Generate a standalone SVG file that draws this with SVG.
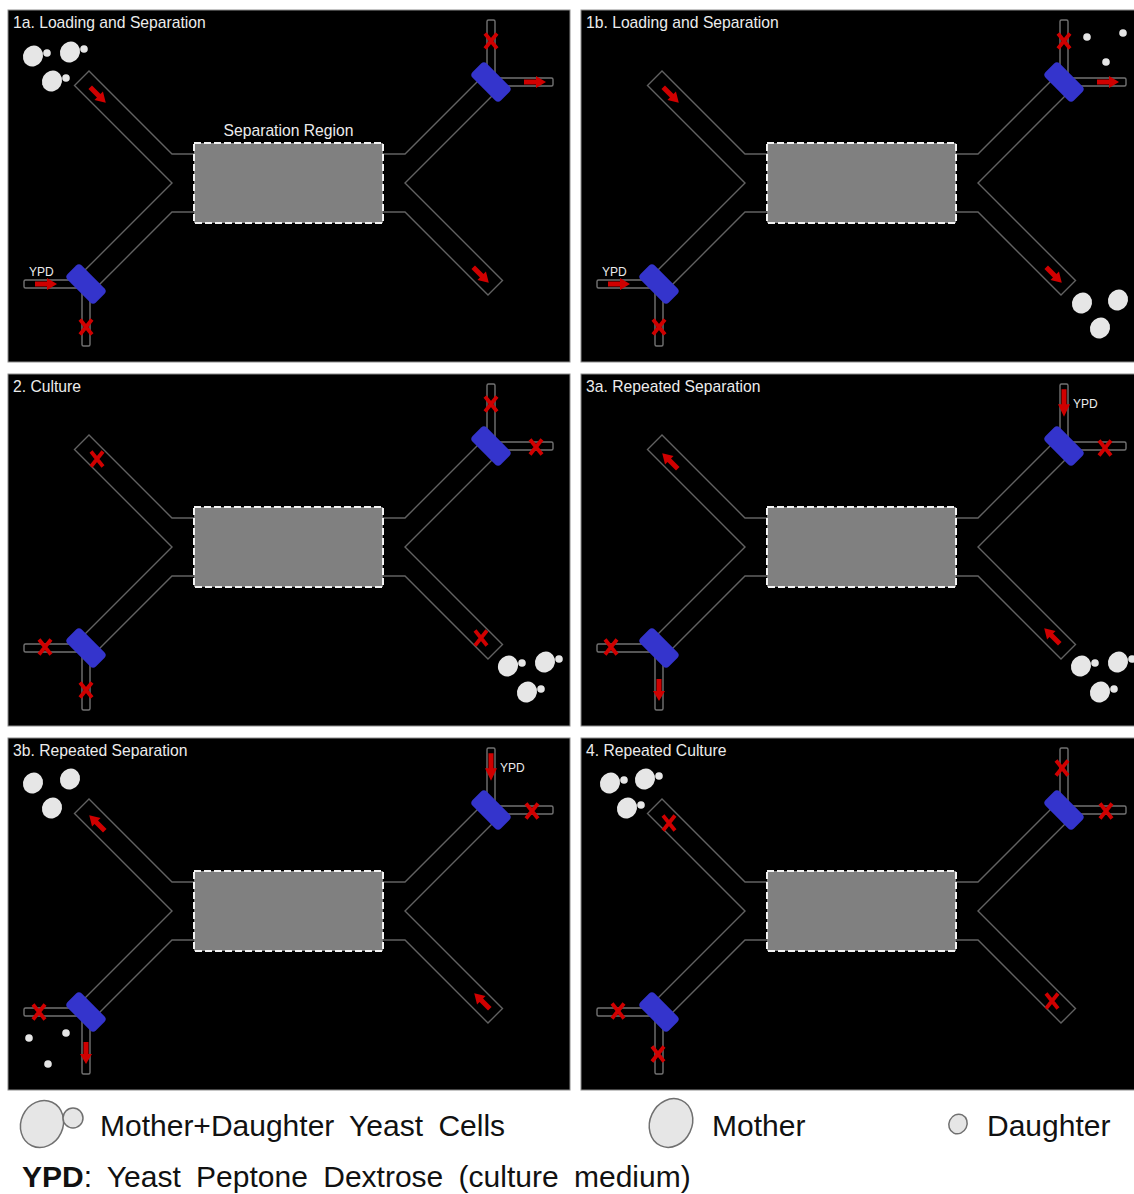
<svg xmlns="http://www.w3.org/2000/svg" width="1134" height="1194" viewBox="0 0 1134 1194">
<style>
  .bg{fill:#000;stroke:#8c8c8c;stroke-width:1}
  .ch{fill:none;stroke:#626262;stroke-width:1.4}
  .tc{fill:#000;stroke:#727272;stroke-width:1.4}
  .valve{fill:#3434cc}
  .sep{fill:#808080;stroke:#f2f2f2;stroke-width:2;stroke-dasharray:7 3}
  .title{font-family:"Liberation Sans",Arial,sans-serif;font-size:15.7px;fill:#ececec}
  .ypd{font-family:"Liberation Sans",Arial,sans-serif;font-size:12px;fill:#ececec}
  .cell{fill:#e6e6e6}
  .lg{font-family:"Liberation Sans",Arial,sans-serif;font-size:30px;fill:#111;word-spacing:7px}
  .lcell{fill:#e6e6e6;stroke:#707070;stroke-width:1.5}
</style>
<defs>
  <!-- microfluidic chip: inlet/outlet channels, valves and the separation chamber -->
  <g id="chip">
    <rect class="bg" x="8" y="10" width="562" height="352"/>
    <g class="channels">
      <path class="ch" d="M194,154 H172 L89,71 L74.5,85.5 L172,183 L82,273"/>
      <path class="ch" d="M194,212 H172 L96,288"/>
      <path class="ch" d="M383,212 H405 L488,295 L502.5,280.5 L405,183 L495,93"/>
      <path class="ch" d="M383,154 H405 L481,78"/>
    </g>
    <rect class="tc" x="24" y="280" width="60" height="8" rx="1.5"/>
    <rect class="tc" x="82" y="286" width="8" height="60" rx="1.5"/>
    <rect class="tc" x="493" y="78" width="60" height="8" rx="1.5"/>
    <rect class="tc" x="487" y="20" width="8" height="60" rx="1.5"/>
    <rect class="valve" x="-20" y="-10" width="40" height="20" rx="4" transform="translate(86,284) rotate(45)"/>
    <rect class="valve" x="-20" y="-10" width="40" height="20" rx="4" transform="translate(491,82) rotate(45)"/>
    <rect class="sep" x="194" y="143" width="189" height="80"/>
  </g>
  <!-- flow arrow (points right) and closed-valve cross -->
  <path id="arr" d="M-11,-2.5 H1 V-6 L11,0 L1,6 V2.5 H-11 Z" fill="#d00000"/>
  <path id="xm" d="M-6,-7.5 L6,7.5 M6,-7.5 L-6,7.5" fill="none" stroke="#d00000" stroke-width="3.8"/>
  <!-- yeast cells -->
  <ellipse id="mom" class="cell" rx="9.8" ry="10.8" transform="rotate(30)"/>
  <circle id="dau" class="cell" r="3.8"/>
  <g id="md"><use href="#mom"/><use href="#dau" x="14" y="-3"/></g>
</defs>

<!-- 1a -->
<g id="panel-1a">
  <use href="#chip"/>
  <text class="title" x="13" y="28">1a. Loading and Separation</text>
  <text class="title" x="288.5" y="136" text-anchor="middle">Separation Region</text>
  <text class="ypd" x="29" y="276">YPD</text>
  <g class="flow">
    <use href="#arr" transform="translate(98,95) rotate(45)"/>
    <use href="#arr" transform="translate(481,275) rotate(45)"/>
    <use href="#arr" transform="translate(46,284)"/>
    <use href="#arr" transform="translate(535,82)"/>
    <use href="#xm" x="86" y="327"/>
    <use href="#xm" x="491" y="41"/>
  </g>
  <g class="cells">
    <use href="#md" x="33" y="56"/>
    <use href="#md" x="70" y="52"/>
    <use href="#md" x="52" y="81"/>
  </g>
</g>

<!-- 1b -->
<g id="panel-1b" transform="translate(573,0)">
  <use href="#chip"/>
  <text class="title" x="13" y="28">1b. Loading and Separation</text>
  <text class="ypd" x="29" y="276">YPD</text>
  <g class="flow">
    <use href="#arr" transform="translate(98,95) rotate(45)"/>
    <use href="#arr" transform="translate(481,275) rotate(45)"/>
    <use href="#arr" transform="translate(46,284)"/>
    <use href="#arr" transform="translate(535,82)"/>
    <use href="#xm" x="86" y="327"/>
    <use href="#xm" x="491" y="41"/>
  </g>
  <g class="cells">
    <use href="#mom" x="509" y="303"/>
    <use href="#mom" x="545" y="300"/>
    <use href="#mom" x="527" y="328"/>
    <use href="#dau" x="514" y="37"/>
    <use href="#dau" x="550" y="33"/>
    <use href="#dau" x="533" y="62"/>
  </g>
</g>

<!-- 2 -->
<g id="panel-2" transform="translate(0,364)">
  <use href="#chip"/>
  <text class="title" x="13" y="28">2. Culture</text>
  <g class="flow">
    <use href="#xm" x="97" y="95"/>
    <use href="#xm" x="491" y="40"/>
    <use href="#xm" x="536" y="83"/>
    <use href="#xm" x="45" y="283"/>
    <use href="#xm" x="86" y="326"/>
    <use href="#xm" x="481" y="274"/>
  </g>
  <g class="cells">
    <use href="#md" x="508" y="302"/>
    <use href="#md" x="545" y="298"/>
    <use href="#md" x="527" y="328"/>
  </g>
</g>

<!-- 3a -->
<g id="panel-3a" transform="translate(573,364)">
  <use href="#chip"/>
  <text class="title" x="13" y="28">3a. Repeated Separation</text>
  <text class="ypd" x="500" y="44">YPD</text>
  <g class="flow">
    <use href="#arr" transform="translate(97,97) rotate(-135)"/>
    <use href="#arr" transform="translate(479,272) rotate(-135)"/>
    <use href="#arr" transform="translate(491,39) rotate(90) scale(1.25,1)"/>
    <use href="#arr" transform="translate(86,326) rotate(90)"/>
    <use href="#xm" x="532" y="84"/>
    <use href="#xm" x="38" y="283"/>
  </g>
  <g class="cells">
    <use href="#md" x="508" y="302"/>
    <use href="#md" x="545" y="298"/>
    <use href="#md" x="527" y="328"/>
  </g>
</g>

<!-- 3b -->
<g id="panel-3b" transform="translate(0,728)">
  <use href="#chip"/>
  <text class="title" x="13" y="28">3b. Repeated Separation</text>
  <text class="ypd" x="500" y="44">YPD</text>
  <g class="flow">
    <use href="#arr" transform="translate(97,95) rotate(-135)"/>
    <use href="#arr" transform="translate(482,273) rotate(-135)"/>
    <use href="#arr" transform="translate(491,39) rotate(90) scale(1.25,1)"/>
    <use href="#arr" transform="translate(86,325) rotate(90)"/>
    <use href="#xm" x="532" y="83"/>
    <use href="#xm" x="39" y="284"/>
  </g>
  <g class="cells">
    <use href="#mom" x="33" y="55"/>
    <use href="#mom" x="70" y="51"/>
    <use href="#mom" x="52" y="80"/>
    <use href="#dau" x="29" y="310"/>
    <use href="#dau" x="66" y="305"/>
    <use href="#dau" x="48" y="336"/>
  </g>
</g>

<!-- 4 -->
<g id="panel-4" transform="translate(573,728)">
  <use href="#chip"/>
  <text class="title" x="13" y="28">4. Repeated Culture</text>
  <g class="flow">
    <use href="#xm" x="96" y="95"/>
    <use href="#xm" x="489" y="40"/>
    <use href="#xm" x="533" y="83"/>
    <use href="#xm" x="45" y="283"/>
    <use href="#xm" x="85" y="326"/>
    <use href="#xm" x="479" y="273"/>
  </g>
  <g class="cells">
    <use href="#md" x="37" y="55"/>
    <use href="#md" x="72" y="51"/>
    <use href="#md" x="54" y="80"/>
  </g>
</g>

<!-- legend -->
<g id="legend">
  <ellipse class="lcell" cx="42" cy="1124" rx="21" ry="24" transform="rotate(25 42 1124)"/>
  <circle class="lcell" cx="73" cy="1118" r="10"/>
  <text class="lg" x="100" y="1136">Mother+Daughter Yeast Cells</text>
  <ellipse class="lcell" cx="671" cy="1123" rx="21" ry="25" transform="rotate(25 671 1123)"/>
  <text class="lg" x="712" y="1136">Mother</text>
  <ellipse class="lcell" cx="958" cy="1124" rx="9" ry="10" transform="rotate(25 958 1124)"/>
  <text class="lg" x="987" y="1136">Daughter</text>
  <text class="lg" x="22" y="1187"><tspan font-weight="bold">YPD</tspan>: Yeast Peptone Dextrose (culture medium)</text>
</g>
</svg>
